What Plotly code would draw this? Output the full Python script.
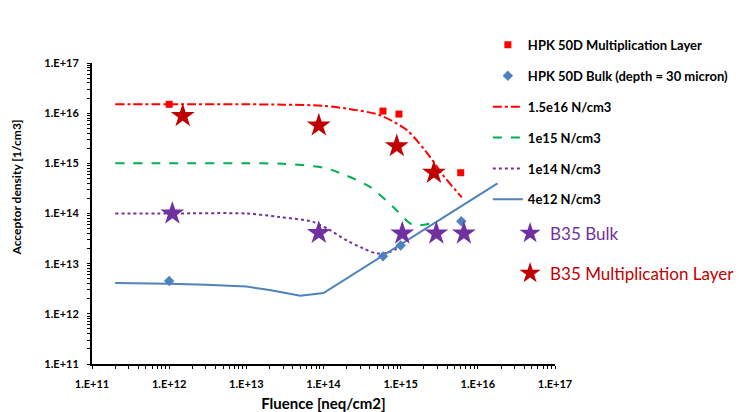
import plotly.graph_objects as go

# ---------------- data ----------------
tick_vals = [1e11, 1e12, 1e13, 1e14, 1e15, 1e16, 1e17]
tick_text = ["1.E+11", "1.E+12", "1.E+13", "1.E+14", "1.E+15", "1.E+16", "1.E+17"]

hpk_ml_fluence = [1e12, 5.9e14, 9.5e14, 6.0e15]
hpk_ml_acceptor = [1.5e16, 1.1e16, 9.6e15, 6.5e14]

hpk_bulk_fluence = [1e12, 5.9e14, 1.0e15, 6.1e15]
hpk_bulk_acceptor = [4.5e12, 1.4e13, 2.3e13, 7.0e13]

sim_15e16_fluence = [2e11, 1e12, 1e13, 3e13, 1e14, 2.7e14, 5.4e14, 1.2e15, 2.4e15, 3.5e15, 6.2e15]
sim_15e16_acceptor = [1.5e16, 1.5e16, 1.5e16, 1.48e16, 1.4e16, 1.15e16, 9.1e15, 4.6e15, 1.35e15, 5.9e14, 2.1e14]

sim_1e15_fluence = [2e11, 1e12, 1e13, 3e13, 1e14, 1.6e14, 4e14, 8e14, 1.45e15, 2.9e15]
sim_1e15_acceptor = [1e15, 1e15, 1e15, 9.8e14, 8.2e14, 6.5e14, 3.4e14, 1.35e14, 5.9e13, 6.8e13]

sim_1e14_fluence = [2e11, 1e12, 1e13, 2.7e13, 7.3e13, 1.2e14, 2e14, 3.2e14, 4.9e14, 7.2e14, 1.03e15]
sim_1e14_acceptor = [1e14, 1e14, 1e14, 8.5e13, 6.8e13, 4.7e13, 2.9e13, 2.05e13, 1.6e13, 1.7e13, 2.3e13]

sim_4e12_fluence = [2e11, 1e12, 3e12, 1e13, 2e13, 5e13, 1e14, 1.8e16]
sim_4e12_acceptor = [4.1e12, 4.0e12, 3.8e12, 3.5e12, 3.0e12, 2.3e12, 2.6e12, 4.0e14]

b35_bulk_fluence = [1.1e12, 8.7e13, 1.05e15, 2.9e15, 6.6e15]
b35_bulk_acceptor = [1e14, 4.1e13, 4.0e13, 4.0e13, 4.0e13]

b35_ml_fluence = [1.5e12, 8.7e13, 8.9e14, 2.7e15]
b35_ml_acceptor = [8.8e15, 5.7e15, 2.2e15, 6.5e14]

FONT = "Lato"

# decade labels plus unlabeled minor positions (2..9 x 10^n)
all_tick_vals = []
all_tick_text = []
for v, t in zip(tick_vals, tick_text):
    all_tick_vals.append(v)
    all_tick_text.append(t)
    if v < tick_vals[-1]:
        for m in range(2, 10):
            all_tick_vals.append(m * v)
            all_tick_text.append("")

fig = go.Figure()

fig.add_trace(go.Scatter(x=sim_15e16_fluence, y=sim_15e16_acceptor, mode="lines",
                         name="1.5e16 N/cm3", legendgroup="g3", legendrank=3,
                         line=dict(color="#FF0000", width=2, dash="dashdot", shape="spline", smoothing=0.8)))
fig.add_trace(go.Scatter(x=sim_1e15_fluence, y=sim_1e15_acceptor, mode="lines",
                         name="1e15 N/cm3", legendgroup="g4", legendrank=4,
                         line=dict(color="#00B050", width=2, dash="dash", shape="spline", smoothing=0.8)))
fig.add_trace(go.Scatter(x=sim_1e14_fluence, y=sim_1e14_acceptor, mode="lines",
                         name="1e14 N/cm3", legendgroup="g5", legendrank=5,
                         line=dict(color="#7030A0", width=2, dash="dot", shape="spline", smoothing=0.8)))
fig.add_trace(go.Scatter(x=sim_4e12_fluence, y=sim_4e12_acceptor, mode="lines",
                         name="4e12 N/cm3", legendgroup="g6", legendrank=6,
                         line=dict(color="#4F81BD", width=2)))
fig.add_trace(go.Scatter(x=hpk_ml_fluence, y=hpk_ml_acceptor, mode="markers",
                         name="HPK 50D Multiplication Layer", legendgroup="g1", legendrank=1,
                         marker=dict(symbol="square", size=7, color="#FF0000")))
fig.add_trace(go.Scatter(x=hpk_bulk_fluence, y=hpk_bulk_acceptor, mode="markers",
                         name="HPK 50D Bulk (depth = 30 micron)", legendgroup="g2", legendrank=2,
                         marker=dict(symbol="diamond", size=8, color="#4F81BD")))
fig.add_trace(go.Scatter(x=b35_bulk_fluence, y=b35_bulk_acceptor, mode="markers",
                         name="<span style='color:#7030A0'>B35 Bulk</span>", legend="legend2",
                         legendgroup="g7", legendrank=7,
                         marker=dict(symbol="star", size=18, color="#7030A0")))
fig.add_trace(go.Scatter(x=b35_ml_fluence, y=b35_ml_acceptor, mode="markers",
                         name="<span style='color:#C00000'>B35 Multiplication Layer</span>", legend="legend2",
                         legendgroup="g8", legendrank=8,
                         marker=dict(symbol="star", size=18, color="#C00000")))

axis_common = dict(
    type="log", range=[11, 17], tickmode="array", tickvals=all_tick_vals, ticktext=all_tick_text,
    showgrid=False, zeroline=False, showline=True, linecolor="#000000", linewidth=2,
    tickfont=dict(family=FONT, size=11, color="#000000", weight="bold"),
    ticks="outside", ticklen=3, tickwidth=1, tickcolor="#000000", ticklabelstandoff=6,
    automargin=False,
)

fig.update_layout(
    width=743, height=412,
    margin=dict(l=92, r=188, t=63, b=48, autoexpand=False),
    paper_bgcolor="white", plot_bgcolor="white",
    font=dict(family=FONT, color="#000000"),
    xaxis=dict(**axis_common,
               title=dict(text="Fluence [neq/cm2]", font=dict(family=FONT, size=15, weight="bold"), standoff=9)),
    yaxis=dict(**axis_common),
    showlegend=True,
    legend=dict(x=0.855, xanchor="left", y=1.11, yanchor="top",
                font=dict(family=FONT, size=13, weight="bold", color="#000000"),
                tracegroupgap=11, traceorder="grouped", bgcolor="rgba(0,0,0,0)",
                itemwidth=30),
    legend2=dict(x=0.903, xanchor="left", y=0.493, yanchor="top",
                 font=dict(family=FONT, size=17),
                 tracegroupgap=15, traceorder="grouped", bgcolor="rgba(0,0,0,0)",
                 itemwidth=30),
    annotations=[dict(text="Acceptor density [1/cm3]", xref="paper", yref="paper",
                      x=(16 - 92) / 463, y=(364 - 187.5) / 301, textangle=-90, showarrow=False,
                      font=dict(family=FONT, size=12, weight="bold", color="#000000"),
                      xanchor="center", yanchor="middle")],
)

fig.write_html("out.html", config={"displayModeBar": False},
               post_script="document.body.style.margin='0';")
